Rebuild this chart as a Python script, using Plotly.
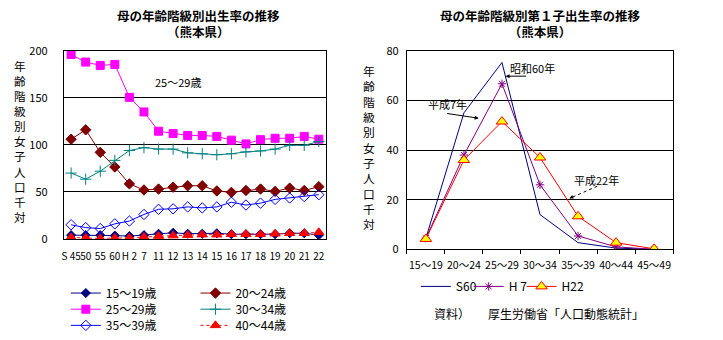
import plotly.graph_objects as go

W, H = 723, 340

# ---------- data: left chart ----------
years = ["S 45", "50", "55", "60", "H 2", "7", "11", "12", "13", "14", "15", "16", "17", "18", "19", "20", "21", "22"]
r15_19 = [4, 4, 4, 3.5, 3, 4, 5.5, 6.5, 5.5, 5.5, 6, 5, 5, 5, 5, 6, 6, 4]
r20_24 = [106, 116, 92, 76.5, 58.5, 52, 53, 55, 56.5, 56.5, 51, 49.5, 51.5, 53, 50.5, 54, 51.5, 55.5]
r25_29 = [196, 188, 184.5, 185.5, 150.5, 135, 114.5, 112, 110, 110, 109, 105, 101, 105.5, 107, 107, 109, 106]
r30_34 = [70, 63.5, 72, 83.5, 94, 97, 95.5, 95.5, 91.5, 90.5, 89.5, 90.5, 92.5, 93.5, 95.5, 99.5, 99.5, 103.5]
r35_39 = [15, 12, 11, 16, 19, 26, 31.5, 32, 34, 33, 34, 39, 36, 38, 42, 43.5, 45, 47]
r40_44 = [1.5, 1, 0.5, 1, 1, 2, 3, 3.5, 4, 4.5, 4.5, 5, 5, 5, 5.5, 6, 6, 7]
left_names = ["15～19歳", "20～24歳", "25～29歳", "30～34歳", "35～39歳", "40～44歳"]

# ---------- data: right chart ----------
ages = ["15～19", "20～24", "25～29", "30～34", "35～39", "40～44", "45～49"]
s60 = [4.5, 55, 75.3, 14, 2.7, 0.5, 0]
h7 = [4.5, 38, 66.7, 26, 5.4, 1, 0]
h22 = [4.2, 36, 51.5, 37, 13.3, 2.7, 0.2]
right_names = ["S60", "H 7", "H22"]

FONT = "Noto Sans CJK JP"


def px(x):
    return x / W


def py(y):
    return 1 - y / H


fig = go.Figure()

# legend anchor positions (legend left edge px, row centre px)
left_slots = [(64, 293), (194, 293), (64, 310), (194, 310), (64, 327), (194, 327)]
right_slots = [(415, 286), (468, 286), (521, 286)]

left_styles = [
    dict(color="#000080", symbol="diamond", size=7, dash="solid"),
    dict(color="#800000", symbol="diamond", size=8, dash="solid"),
    dict(color="#FF00FF", symbol="square", size=8, dash="solid"),
    dict(color="#008080", symbol="cross-thin", size=8, dash="solid"),
    dict(color="#0000FF", symbol="diamond-open", size=8, dash="solid"),
    dict(color="#FF0000", symbol="triangle-up", size=9, dash="dot"),
]
left_data = [r15_19, r20_24, r25_29, r30_34, r35_39, r40_44]
for i, (name, vals, st) in enumerate(zip(left_names, left_data, left_styles)):
    fig.add_trace(go.Scatter(
        x=years, y=vals, name=name, mode="lines+markers",
        line=dict(color=st["color"], width=1, dash=st["dash"]),
        marker=dict(symbol=st["symbol"], size=st["size"], color=st["color"],
                    line=dict(color=st["color"], width=1)),
        xaxis="x", yaxis="y", legend="legend" if i == 0 else f"legend{i + 1}",
    ))

fig.add_trace(go.Scatter(x=ages, y=s60, name=right_names[0], mode="lines",
                         line=dict(color="#000080", width=1), xaxis="x2", yaxis="y2", legend="legend7"))
fig.add_trace(go.Scatter(x=ages, y=h7, name=right_names[1], mode="lines+markers",
                         line=dict(color="#800080", width=1),
                         marker=dict(symbol="asterisk-open", size=7, color="#800080",
                                     line=dict(color="#800080", width=1)),
                         xaxis="x2", yaxis="y2", legend="legend8"))
fig.add_trace(go.Scatter(x=ages, y=h22, name=right_names[2], mode="lines+markers",
                         line=dict(color="#FF0000", width=1),
                         marker=dict(symbol="triangle-up", size=10, color="#FFFF00",
                                     line=dict(color="#FF0000", width=1)),
                         xaxis="x2", yaxis="y2", legend="legend9"))

axis_common = dict(showline=True, linecolor="black", linewidth=1, mirror=True)

legend_common = dict(orientation="h", bgcolor="rgba(0,0,0,0)",
                     font=dict(family=FONT, size=12, color="black"), xanchor="left", yanchor="middle",
                     itemwidth=30)

legends = {}
for i, (lx, ly) in enumerate(left_slots + right_slots):
    key = "legend" if i == 0 else f"legend{i + 1}"
    legends[key] = dict(x=px(lx), y=py(ly + 6), **legend_common)

fig.update_layout(
    width=W, height=H, margin=dict(l=0, r=0, t=0, b=0),
    paper_bgcolor="white", plot_bgcolor="white",
    font=dict(family=FONT, size=11, color="black"),
    xaxis=dict(domain=[px(62), px(325)], type="category", range=[-0.5, 17.5], tickangle=0,
               showgrid=False, ticks="", ticklabelstandoff=8, anchor="y",
               tickfont=dict(family=FONT, size=10, color="black"), **axis_common),
    yaxis=dict(domain=[py(242), py(44)], range=[0, 200], dtick=50, showgrid=True,
               gridcolor="black", gridwidth=1, ticks="", ticklabelstandoff=13, anchor="x",
               zeroline=False, tickfont=dict(family=FONT, size=11, color="black"), **axis_common),
    xaxis2=dict(domain=[px(406), px(673)], type="category", range=[-0.5, 6.5], tickangle=0,
                showgrid=False, ticks="outside", ticklen=4, tickcolor="black", tickson="boundaries",
                ticklabelstandoff=6, anchor="y2",
                tickfont=dict(family=FONT, size=10.5, color="black"), **axis_common),
    yaxis2=dict(domain=[py(253), py(44)], range=[0, 80], dtick=20, showgrid=True,
                gridcolor="black", gridwidth=1, ticks="", ticklabelstandoff=5, anchor="x2",
                zeroline=False, tickfont=dict(family=FONT, size=11, color="black"), **axis_common),
    showlegend=True,
    **legends,
)

ann = []


def text_ann(text, x, y, size=11, bold=False):
    f = dict(family=FONT, size=size, color="black")
    if bold:
        f["weight"] = "bold"
    ann.append(dict(text=text, x=px(x), y=py(y), xref="paper", yref="paper", showarrow=False,
                    xanchor="center", yanchor="middle", font=f))


text_ann("母の年齢階級別出生率の推移<br>（熊本県）", 197, 15, 12.5, True)
text_ann("母の年齢階級別第１子出生率の推移<br>（熊本県）", 540, 15, 12.5, True)

ytitle = "<br>".join(list("年齢階級別女子人口千対"))
text_ann(ytitle, 18, 139, 11.6)
text_ann(ytitle, 368, 145.5, 11.8)

text_ann("25～29歳", 176, 77, 11)
text_ann("昭和60年", 532, 62, 11)
text_ann("平成7年", 447, 100, 11)
text_ann("平成22年", 596, 180, 11)
text_ann("資料）　　厚生労働省「人口動態統計」", 538, 321, 12)

# arrows
ann.append(dict(text="", x=px(505), y=py(70.7), xref="paper", yref="paper", showarrow=True,
                ax=22, ay=0, arrowhead=2, arrowsize=0.8, arrowwidth=1, arrowcolor="black", standoff=0))
ann.append(dict(text="", x=px(478), y=py(115), xref="paper", yref="paper", showarrow=True,
                ax=-33, ay=-5, arrowhead=2, arrowsize=0.8, arrowwidth=1, arrowcolor="black", standoff=0))
ann.append(dict(text="", x=px(569), y=py(199.5), xref="paper", yref="paper", showarrow=True,
                ax=4, ay=-2, arrowhead=2, arrowsize=0.8, arrowwidth=1, arrowcolor="black", standoff=0))

fig.update_layout(annotations=ann)
fig.add_shape(type="line", xref="paper", yref="paper", x0=px(597), y0=py(186.5), x1=px(571), y1=py(198.5),
              line=dict(color="black", width=1, dash="dot"))

fig.write_html("out.html")
